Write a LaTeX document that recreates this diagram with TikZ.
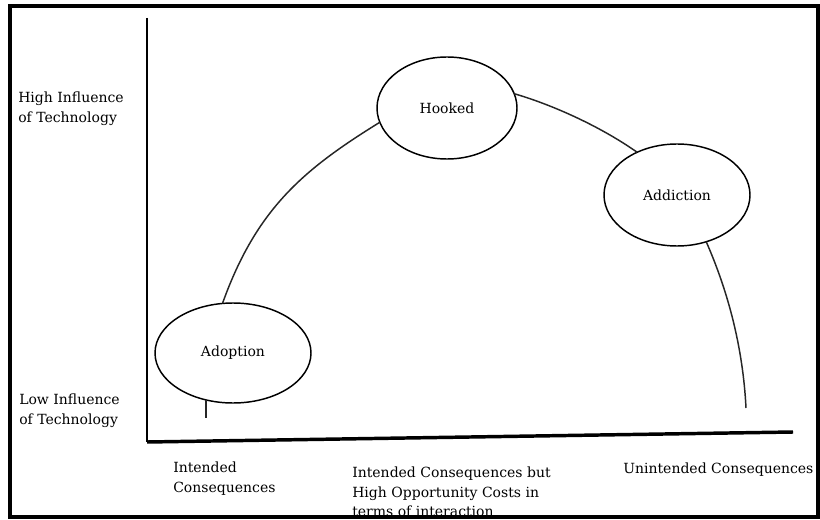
\documentclass[tikz,border=0pt]{standalone}
\usepackage{fontspec}
\setmainfont{DejaVu Serif}
\usetikzlibrary{shapes.geometric}
\begin{document}
\begin{tikzpicture}[x=0.75pt,y=-0.75pt,
  stage/.style={ellipse,draw,line width=1.1pt,inner sep=0pt,outer sep=0pt,
    font=\fontsize{10.5}{14.5}\selectfont},
  lbl/.style={anchor=north west,inner sep=0pt,align=left,
    font=\fontsize{10.5}{14.5}\selectfont},
  link/.style={line width=1.1pt,draw=black!85}]
\useasboundingbox (0,0) rectangle (820,520);
\fill[white] (0,0) rectangle (820,520);
% outer frame
\draw[line width=2.3pt] (10,6) rectangle (818,517);

% axes
\coordinate (ytop) at (147,18);
\coordinate (orig) at (147,442);
\coordinate (xend) at (793,432);
\draw[line width=2pt] (ytop) -- (orig);
\draw[line width=2.6pt] (orig) -- (xend);

% stages
\node[stage,minimum width=117pt,minimum height=75pt] (adoption) at (233,353) {Adoption};
\node[stage,minimum width=105pt,minimum height=76.5pt] (hooked) at (447,108) {Hooked};
\node[stage,minimum width=109.5pt,minimum height=76.5pt] (addiction) at (677,195) {Addiction};

% connecting arcs
\coordinate (astub) at (204,418);
\coordinate (rstub) at (746,408);
\draw[link] (adoption.102) .. controls +(34,-95) and +(-76,47) .. (hooked.192);
\draw[link] (hooked.12) .. controls +(38,11) and +(-37,-26) .. (addiction.133);
\draw[link] (addiction.-58) .. controls +(22,50) and +(-3,-60) .. (rstub);
\draw[link] (adoption.-120.6) -- (adoption.-120.6 |- astub);

% axis labels
\node[lbl] (hi) at (18,92) {High Influence\\of Technology};
\node[lbl] (lo) at (19,394) {Low Influence\\of Technology};
\node[lbl] (c1) at (173,462) {Intended\\Consequences};
\node[lbl] (c2) at (352,467) {Intended Consequences but\\High Opportunity Costs in\\terms of interaction};
\node[lbl] (c3) at (623,463) {Unintended Consequences};
\end{tikzpicture}
\end{document}
